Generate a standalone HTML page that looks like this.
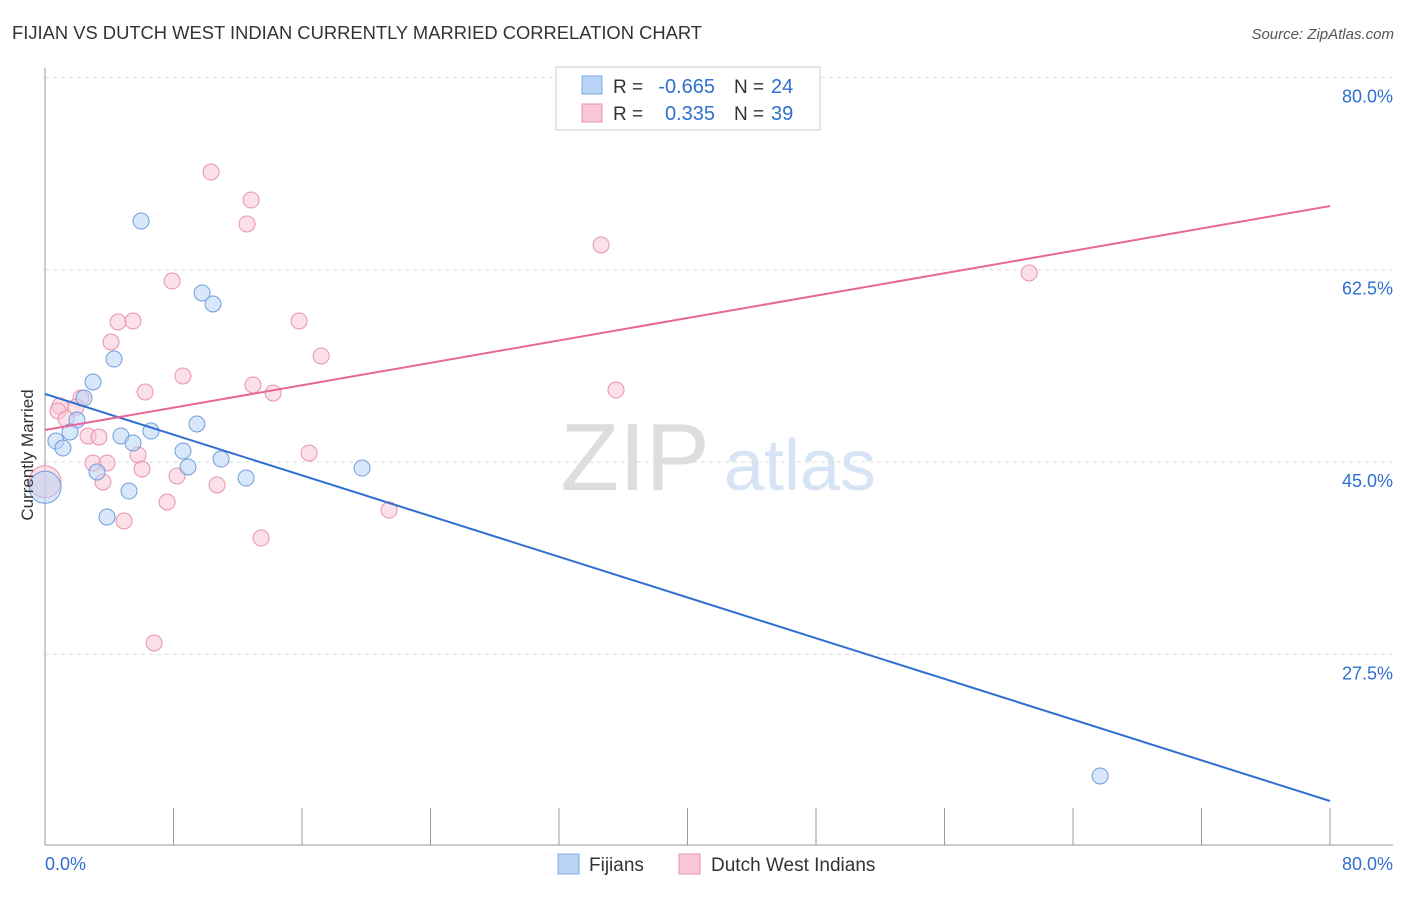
<!DOCTYPE html>
<html><head><meta charset="utf-8"><style>
body{margin:0;background:#fff;font-family:"Liberation Sans",sans-serif}
svg text{font-family:"Liberation Sans",sans-serif}
</style></head><body>
<svg width="1406" height="892" viewBox="0 0 1406 892">
<text x="12" y="39" font-size="18" fill="#333" textLength="690" lengthAdjust="spacingAndGlyphs">FIJIAN VS DUTCH WEST INDIAN CURRENTLY MARRIED CORRELATION CHART</text>
<text x="1394" y="39" font-size="15" fill="#555" font-style="italic" text-anchor="end">Source: ZipAtlas.com</text>
<g>
<text x="635" y="490" font-size="96" fill="#ddd" font-family="Liberation Serif" text-anchor="middle">ZIP</text>
<text x="800" y="490" font-size="72" fill="#d6e4f5" text-anchor="middle">atlas</text>
</g>
<g id="grid"></g>
<g id="axes"></g>
<g id="marks"></g>
<text x="33" y="455" font-size="17" fill="#333" text-anchor="middle" transform="rotate(-90 33 455)">Currently Married</text>
<g>
<rect x="556" y="67" width="264" height="63" fill="#fff" stroke="#ccc"/>
<rect x="582" y="76" width="20" height="18" fill="#b9d3f5" stroke="#7ea8e0"/>
<rect x="582" y="104" width="20" height="18" fill="#f9c7d6" stroke="#e893ad"/>
<text x="613" y="93" font-size="19" fill="#333">R =</text>
<text x="715" y="93" font-size="20" fill="#2f6fd0" text-anchor="end">-0.665</text>
<text x="734" y="93" font-size="19" fill="#333">N =</text>
<text x="771" y="93" font-size="20" fill="#2f6fd0">24</text>
<text x="613" y="120" font-size="19" fill="#333">R =</text>
<text x="715" y="120" font-size="20" fill="#2f6fd0" text-anchor="end">0.335</text>
<text x="734" y="120" font-size="19" fill="#333">N =</text>
<text x="771" y="120" font-size="20" fill="#2f6fd0">39</text>
</g>
<g>
<rect x="558" y="854" width="21" height="20" fill="#b9d3f5" stroke="#7ea8e0"/>
<text x="589" y="871" font-size="19" fill="#333">Fijians</text>
<rect x="679" y="854" width="21" height="20" fill="#f9c7d6" stroke="#e893ad"/>
<text x="711" y="871" font-size="19" fill="#333">Dutch West Indians</text>
</g>
</svg>
<script>
const yTicks=[80,62.5,45,27.5];
const yTickLabels=["80.0%","62.5%","45.0%","27.5%"];
const xTickLabels=["0.0%","80.0%"];
const fijianX=[5.98,9.78,10.46,4.30,2.99,2.43,1.99,1.56,0.68,1.12,4.73,5.48,6.60,9.46,8.59,8.90,10.96,12.52,3.24,5.23,3.86,19.74,65.69,0.0];
const fijianY=[66.93,60.38,59.38,54.37,52.28,50.82,48.82,47.73,46.91,46.27,47.37,46.73,47.82,48.46,46.0,44.55,45.27,43.54,44.09,42.36,39.99,44.45,16.43,42.7];
const dutchX=[10.34,12.83,12.58,34.62,61.27,7.91,4.55,5.48,15.82,4.11,17.19,8.59,12.95,6.23,14.20,35.55,2.24,0.93,1.93,0.81,1.31,2.68,3.36,16.44,5.79,2.99,3.86,6.04,8.22,3.61,10.71,7.60,21.42,4.92,13.45,6.79,0.0];
const dutchY=[71.39,68.84,66.66,64.75,62.20,61.47,57.74,57.83,57.83,55.92,54.65,52.83,52.01,51.37,51.28,51.55,50.82,50.10,50.0,49.64,48.91,47.37,47.27,45.82,45.64,44.91,44.91,44.36,43.73,43.18,42.91,41.36,40.63,39.63,38.08,28.53,43.2];
const fijianTrend=[51.19,14.15];
const dutchTrend=[47.91,68.29];
const xs=v=>45+v*1285/80;
const ys=v=>462-(v-45)*192.3/17.5;
const NS="http://www.w3.org/2000/svg";
function mk(tag,attrs,parent){const e=document.createElementNS(NS,tag);for(const k in attrs)e.setAttribute(k,attrs[k]);document.getElementById(parent).appendChild(e);return e;}
yTicks.forEach((t,i)=>{
 const l=mk('line',{x1:45,x2:1393,y1:ys(t),y2:ys(t),stroke:'#ddd','stroke-dasharray':'4,4'},'grid');
 
 
 const tx=mk('text',{x:1393,y:ys(t)+25,'font-size':18,fill:'#2f6fd0','text-anchor':'end'},'grid');
 tx.textContent=yTickLabels[i];
 
 
});
const ax=mk('line',{x1:45,x2:45,y1:68,y2:845,stroke:'#999'},'axes');


const bx=mk('line',{x1:45,x2:1393,y1:845,y2:845,stroke:'#999'},'axes');


for(let i=0;i<=10;i++){
 const t=mk('line',{x1:xs(i*8),x2:xs(i*8),y1:808,y2:845,stroke:'#999'},'axes');
 
 
}
[[0,'start',45],[80,'end',1393]].forEach((d,i)=>{
 const t=mk('text',{x:d[2],y:870,'font-size':18,fill:'#2f6fd0','text-anchor':d[1]},'axes');
 t.textContent=xTickLabels[i];
 
 
});
function pts(X,Y,fill,stroke,name){
 X.forEach((x,i)=>{
  const big=(x===0);
  const c=mk('circle',{cx:xs(x),cy:ys(Y[i]),r:big?16:8,fill:fill,'fill-opacity':0.55,stroke:stroke,'stroke-width':1},'marks');
  
  
 });
}
pts(dutchX,dutchY,'#f9c7d6','#e893ad','dutch-point');
pts(fijianX,fijianY,'#b9d3f5','#6f9de0','fijian-point');
const fl=mk('line',{x1:xs(0),y1:ys(fijianTrend[0]),x2:xs(80),y2:ys(fijianTrend[1]),stroke:'#2f6fd0','stroke-width':2},'marks');


const dl=mk('line',{x1:xs(0),y1:ys(dutchTrend[0]),x2:xs(80),y2:ys(dutchTrend[1]),stroke:'#e8679a','stroke-width':2},'marks');


</script>
</body></html>
